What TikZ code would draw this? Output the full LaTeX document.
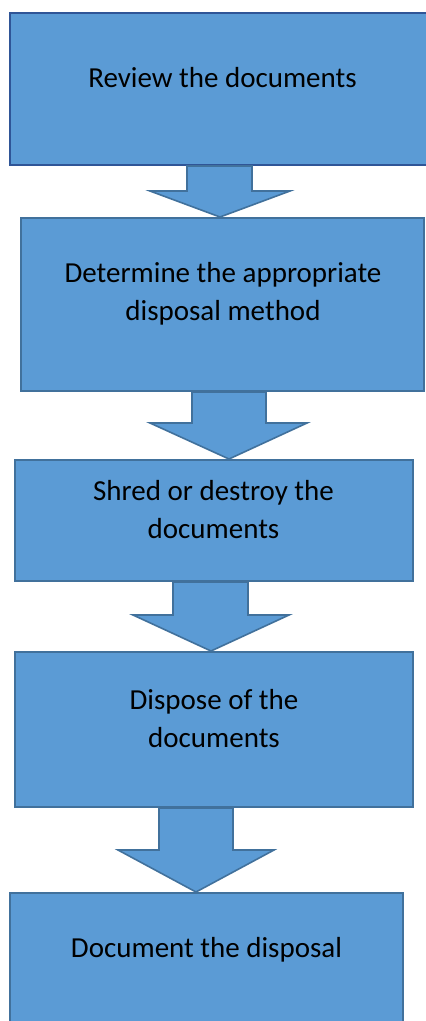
\documentclass[tikz,border=0pt]{standalone}
\usepackage{fontspec}
\setmainfont{Carlito}
\begin{document}
\begin{tikzpicture}[x=1pt,y=-1pt,
  box/.style={draw=boxline,fill=boxfill,line width=2pt,inner sep=0pt},
  blockarrow/.style={draw=boxline,fill=boxfill,line width=1.6pt,line join=miter},
  label/.style={font=\fontsize{29}{38}\selectfont,align=center,text=black,inner sep=0pt}]
\definecolor{boxfill}{HTML}{5B9BD5}
\definecolor{boxline}{HTML}{41719C}
\definecolor{topline}{HTML}{2F5597}
\useasboundingbox (0,0) rectangle (426,1021);
\clip (0,0) rectangle (426,1021);
\fill[white] (0,0) rectangle (426,1021);

% process boxes
\node[box,draw=topline,minimum width=420pt,minimum height=152pt] (b1) at (220,89) {};
\node[box,minimum width=403pt,minimum height=173pt] (b2) at (222.5,304.5) {};
\node[box,minimum width=398pt,minimum height=121pt] (b3) at (214,520.5) {};
\node[box,minimum width=398pt,minimum height=155pt] (b4) at (214,729.5) {};
\node[box,minimum width=393pt,minimum height=160pt] (b5) at (206.5,973) {};

% block arrows between the boxes
\draw[blockarrow] (b1.south -| 187,0) -- (187,191) -- (150,191) -- (b2.north -| 220,0)
  -- (290,191) -- (252,191) -- (b1.south -| 252,0) -- cycle;
\draw[blockarrow] (b2.south -| 192,0) -- (192,423) -- (150,423) -- (b3.north -| 229,0)
  -- (307,423) -- (266,423) -- (b2.south -| 266,0) -- cycle;
\draw[blockarrow] (b3.south -| 173,0) -- (173,615) -- (133,615) -- (b4.north -| 211,0)
  -- (289,615) -- (248,615) -- (b3.south -| 248,0) -- cycle;
\draw[blockarrow] (b4.south -| 159,0) -- (159,850) -- (118,850) -- (b5.north -| 196,0)
  -- (274,850) -- (233,850) -- (b4.south -| 233,0) -- cycle;

% step texts
\node[label] (t1) at (222.5,78) {Review the documents};
\node[label] (t2) at (223,294) {Determine the appropriate\\disposal method};
\node[label] (t3) at (213.5,510) {Shred or destroy the\\documents};
\node[label] (t4) at (214,719) {Dispose of the\\documents};
\node[label] (t5) at (206.5,950) {Document the disposal};
\end{tikzpicture}
\end{document}
